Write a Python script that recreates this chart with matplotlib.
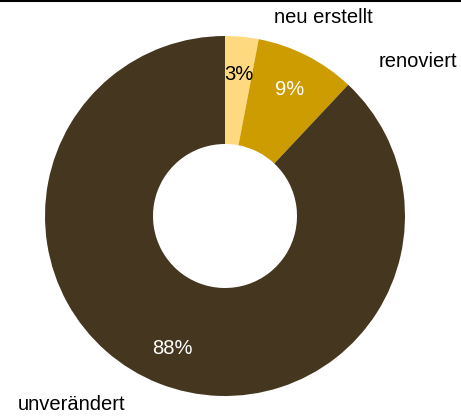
import matplotlib.pyplot as plt
from matplotlib.lines import Line2D

plt.rcParams['font.family'] = ['Liberation Sans', 'DejaVu Sans']

# data
categories = ["neu erstellt", "renoviert", "unverändert"]
shares = [3, 9, 88]
colors = ["#FFD97F", "#CC9C00", "#45371F"]
pct_colors = ["black", "white", "white"]

W, H = 461, 417
cx, cy, R = 225, 216, 180   # pie centre / radius in pixels

fig = plt.figure(figsize=(W / 100, H / 100), dpi=100)
ax = fig.add_axes([0, 0, 1, 1])

wedges, texts, autotexts = ax.pie(
    shares, colors=colors, startangle=90, counterclock=False,
    radius=1, wedgeprops=dict(width=0.6, linewidth=0),
    autopct='%d%%', pctdistance=0.79,
    textprops=dict(fontsize=14.5),
)
for t, c in zip(autotexts, pct_colors):
    t.set_color(c)

# pie() resets the limits, so set them afterwards
ax.set_xlim(-cx / R, (W - cx) / R)
ax.set_ylim(-(H - cy) / R, cy / R)
ax.set_aspect('equal')
ax.axis('off')

# outer labels (pixel positions converted to data units)
label_px = [(323, 18), (418, 62), (72, 405)]
for name, (px, py) in zip(categories, label_px):
    ax.text((px - cx) / R, (cy - py) / R, name, fontsize=14.5,
            ha='center', va='center')

# thin rule along the top edge
fig.add_artist(Line2D([0, 1], [0.998, 0.998], color='black', lw=1.5,
                      transform=fig.transFigure))

fig.savefig('out.png', dpi=100)
